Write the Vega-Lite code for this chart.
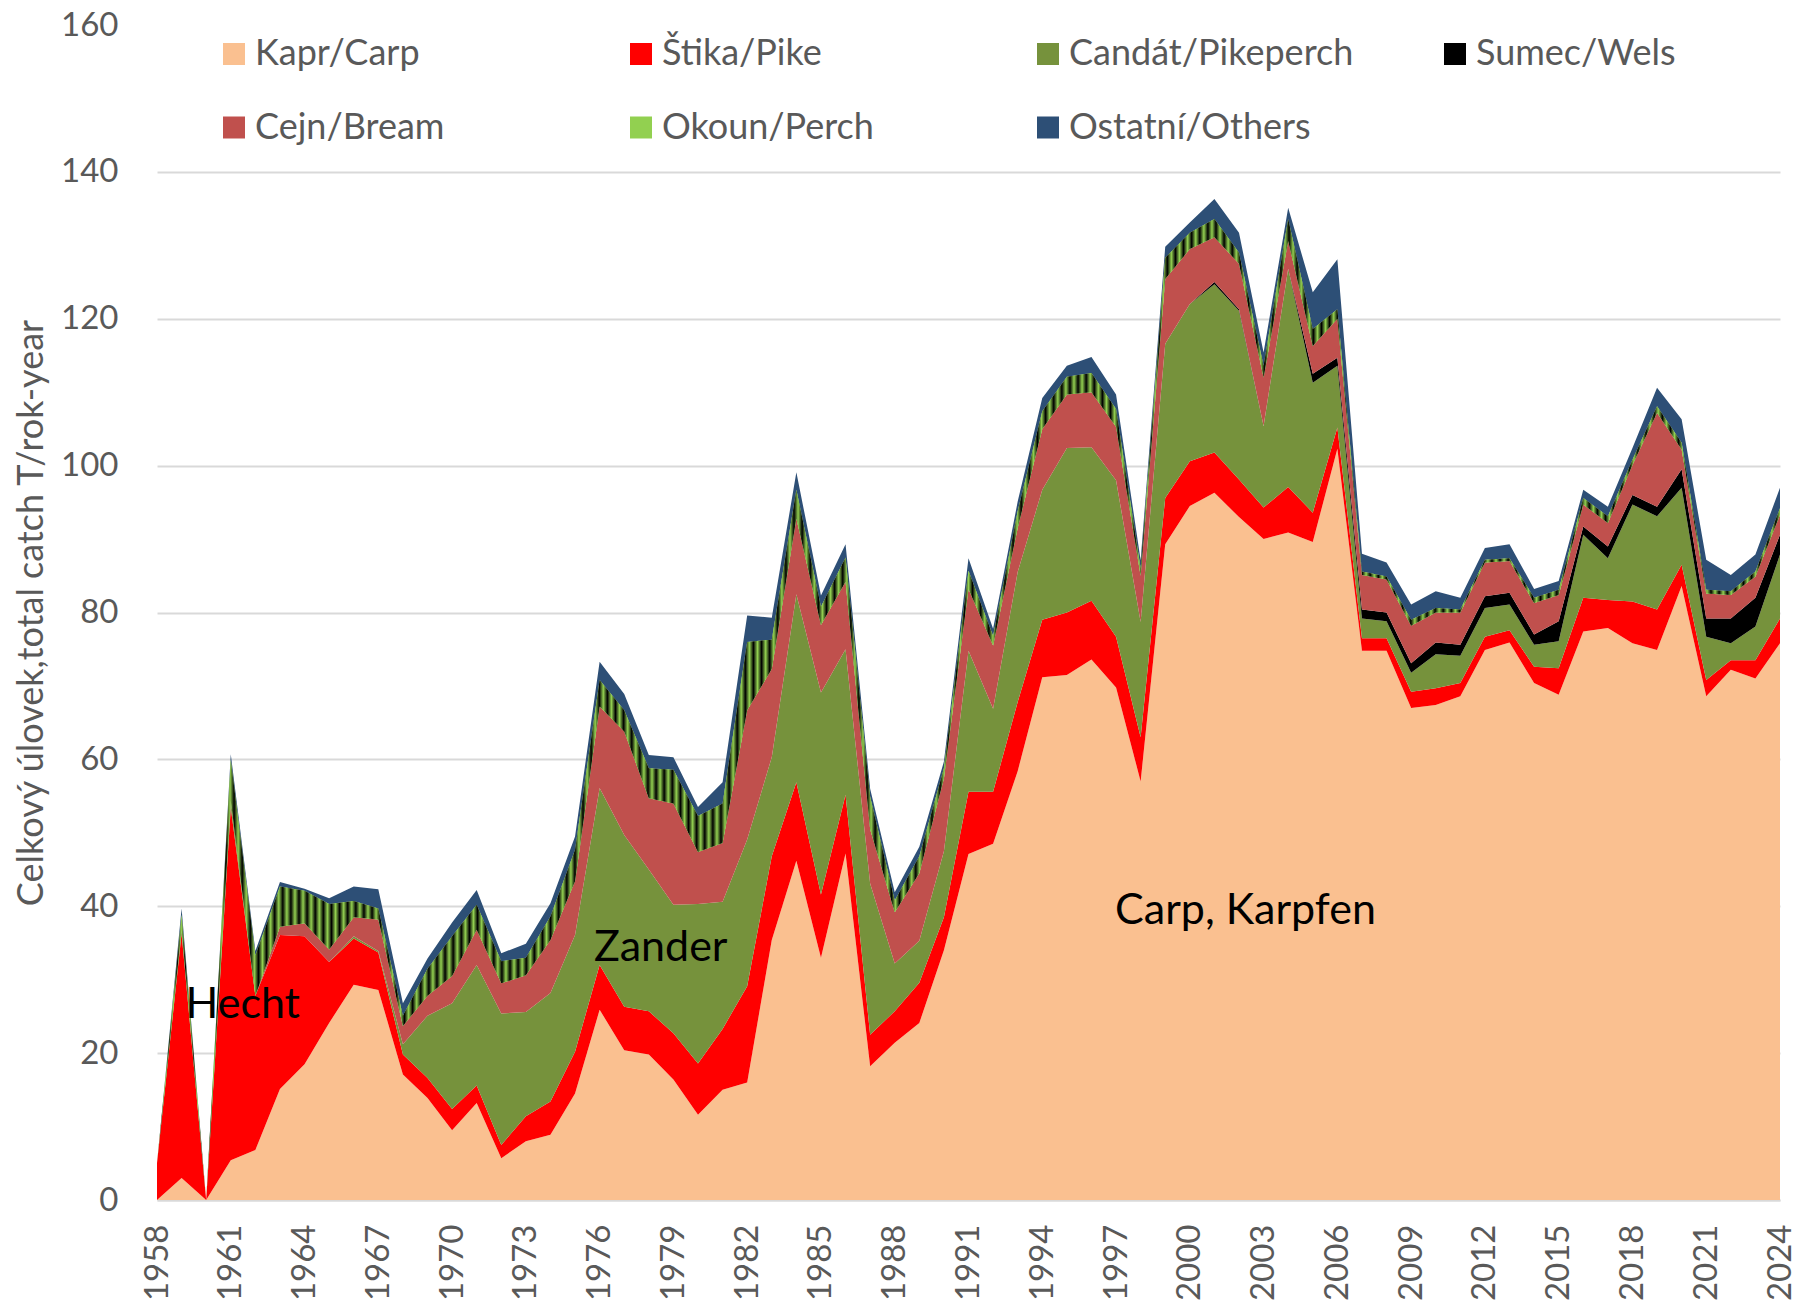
{
"$schema":"https://vega.github.io/schema/vega-lite/v6.json",
"autosize":"none",
"width":1623,"height":1175,
"padding":{"left":157,"top":25,"right":22,"bottom":108},
"background":"white",
"config":{"view":{"stroke":null},"font":"Lato"},
"layer":[
{
"data":{"values":[
{"year":1958,"carp":0,"pike":5,"zander":0,"wels":0,"bream":0,"perch":0,"others":0},
{"year":1959,"carp":3,"pike":33.3,"zander":0.5,"wels":0,"bream":0,"perch":2,"others":0.9},
{"year":1960,"carp":0,"pike":0,"zander":0,"wels":0,"bream":0,"perch":0,"others":0},
{"year":1961,"carp":5.4,"pike":48,"zander":1,"wels":0,"bream":0,"perch":5.5,"others":0.8},
{"year":1962,"carp":6.8,"pike":21,"zander":0,"wels":0,"bream":0,"perch":5.5,"others":0.6},
{"year":1963,"carp":15.1,"pike":21,"zander":0,"wels":0,"bream":1.1,"perch":5.5,"others":0.6},
{"year":1964,"carp":18.5,"pike":17.4,"zander":0,"wels":0,"bream":1.8,"perch":4.4,"others":0.3},
{"year":1965,"carp":24.1,"pike":8.3,"zander":0,"wels":0,"bream":1.7,"perch":6.2,"others":0.8},
{"year":1966,"carp":29.3,"pike":6.3,"zander":0.3,"wels":0,"bream":2.6,"perch":2.2,"others":2.0},
{"year":1967,"carp":28.6,"pike":5.1,"zander":0.2,"wels":0,"bream":4.3,"perch":1.5,"others":2.6},
{"year":1968,"carp":17.1,"pike":2.7,"zander":1.4,"wels":0,"bream":2.5,"perch":1.4,"others":1.7},
{"year":1969,"carp":13.9,"pike":2.7,"zander":8.5,"wels":0,"bream":2.7,"perch":3.7,"others":1.4},
{"year":1970,"carp":9.5,"pike":2.9,"zander":14.4,"wels":0,"bream":3.7,"perch":5.4,"others":1.9},
{"year":1971,"carp":13.2,"pike":2.4,"zander":16.4,"wels":0,"bream":4.8,"perch":3.4,"others":2.0},
{"year":1972,"carp":5.7,"pike":1.8,"zander":17.9,"wels":0,"bream":4.1,"perch":3.0,"others":1.1},
{"year":1973,"carp":8.0,"pike":3.4,"zander":14.2,"wels":0,"bream":5.0,"perch":2.4,"others":1.9},
{"year":1974,"carp":8.9,"pike":4.5,"zander":14.8,"wels":0,"bream":7.2,"perch":3.2,"others":1.8},
{"year":1975,"carp":14.5,"pike":5.7,"zander":15.9,"wels":0,"bream":7.3,"perch":4.3,"others":1.8},
{"year":1976,"carp":25.9,"pike":6.1,"zander":24.1,"wels":0,"bream":11.1,"perch":3.6,"others":2.5},
{"year":1977,"carp":20.4,"pike":5.9,"zander":23.4,"wels":0,"bream":14.1,"perch":2.9,"others":2.2},
{"year":1978,"carp":19.8,"pike":5.9,"zander":19.3,"wels":0,"bream":9.7,"perch":4.1,"others":1.8},
{"year":1979,"carp":16.4,"pike":6.3,"zander":17.5,"wels":0,"bream":13.8,"perch":4.6,"others":1.7},
{"year":1980,"carp":11.6,"pike":7.0,"zander":21.7,"wels":0,"bream":7.1,"perch":4.9,"others":1.2},
{"year":1981,"carp":15.0,"pike":8.3,"zander":17.3,"wels":0,"bream":8.0,"perch":5.4,"others":2.9},
{"year":1982,"carp":16.0,"pike":13.1,"zander":20.0,"wels":0,"bream":17.6,"perch":9.3,"others":3.6},
{"year":1983,"carp":35.4,"pike":11.4,"zander":13.5,"wels":0,"bream":12.0,"perch":4.0,"others":3.0},
{"year":1984,"carp":46.2,"pike":10.7,"zander":25.6,"wels":0,"bream":10.3,"perch":3.9,"others":2.4},
{"year":1985,"carp":33.0,"pike":8.6,"zander":27.5,"wels":0,"bream":9.2,"perch":2.5,"others":1.5},
{"year":1986,"carp":47.2,"pike":8.0,"zander":19.8,"wels":0,"bream":9.2,"perch":3.3,"others":1.8},
{"year":1987,"carp":18.2,"pike":4.3,"zander":20.6,"wels":0,"bream":7.4,"perch":4.4,"others":1.1},
{"year":1988,"carp":21.4,"pike":4.3,"zander":6.5,"wels":0,"bream":7.0,"perch":1.6,"others":1.1},
{"year":1989,"carp":24.1,"pike":5.5,"zander":5.7,"wels":0,"bream":9.2,"perch":2.3,"others":1.3},
{"year":1990,"carp":34.0,"pike":4.5,"zander":9.0,"wels":0,"bream":9.9,"perch":1.4,"others":0.9},
{"year":1991,"carp":47.1,"pike":8.5,"zander":19.2,"wels":0,"bream":8.4,"perch":2.5,"others":1.7},
{"year":1992,"carp":48.5,"pike":7.1,"zander":11.3,"wels":0,"bream":8.6,"perch":1.3,"others":1.0},
{"year":1993,"carp":58.4,"pike":9.4,"zander":17.7,"wels":0,"bream":6.0,"perch":2.3,"others":1.3},
{"year":1994,"carp":71.2,"pike":7.8,"zander":17.7,"wels":0,"bream":8.3,"perch":2.4,"others":1.8},
{"year":1995,"carp":71.5,"pike":8.5,"zander":22.4,"wels":0,"bream":7.3,"perch":2.4,"others":1.5},
{"year":1996,"carp":73.6,"pike":8.0,"zander":20.9,"wels":0,"bream":7.5,"perch":2.6,"others":2.2},
{"year":1997,"carp":69.8,"pike":6.9,"zander":21.3,"wels":0,"bream":7.3,"perch":2.4,"others":2.0},
{"year":1998,"carp":57.0,"pike":6.0,"zander":15.7,"wels":0,"bream":6.3,"perch":1.0,"others":1.1},
{"year":1999,"carp":89.3,"pike":6.3,"zander":21.0,"wels":0,"bream":8.8,"perch":2.9,"others":1.5},
{"year":2000,"carp":94.5,"pike":6.1,"zander":21.4,"wels":0,"bream":7.5,"perch":2.2,"others":1.4},
{"year":2001,"carp":96.3,"pike":5.5,"zander":22.9,"wels":0.3,"bream":6.1,"perch":2.5,"others":2.7},
{"year":2002,"carp":93.0,"pike":5.1,"zander":23.0,"wels":0.2,"bream":6.2,"perch":1.5,"others":2.7},
{"year":2003,"carp":90.0,"pike":4.3,"zander":11.1,"wels":0,"bream":6.6,"perch":1.6,"others":1.8},
{"year":2004,"carp":90.9,"pike":6.2,"zander":29.7,"wels":0,"bream":3.8,"perch":3.0,"others":1.5},
{"year":2005,"carp":89.6,"pike":4.0,"zander":17.7,"wels":1.2,"bream":3.8,"perch":2.3,"others":5.0},
{"year":2006,"carp":102.3,"pike":2.9,"zander":8.4,"wels":1.1,"bream":5.3,"perch":1.3,"others":6.8},
{"year":2007,"carp":74.8,"pike":1.7,"zander":2.7,"wels":1.2,"bream":4.7,"perch":0.5,"others":2.4},
{"year":2008,"carp":74.8,"pike":1.7,"zander":2.3,"wels":1.2,"bream":4.5,"perch":0.4,"others":1.9},
{"year":2009,"carp":67.0,"pike":2.2,"zander":2.6,"wels":1.3,"bream":5.1,"perch":0.8,"others":2.1},
{"year":2010,"carp":67.4,"pike":2.3,"zander":4.6,"wels":1.6,"bream":4.1,"perch":0.6,"others":2.3},
{"year":2011,"carp":68.6,"pike":1.8,"zander":3.7,"wels":1.5,"bream":4.4,"perch":0.4,"others":1.6},
{"year":2012,"carp":74.9,"pike":1.8,"zander":3.9,"wels":1.6,"bream":4.6,"perch":0.4,"others":1.6},
{"year":2013,"carp":75.9,"pike":1.7,"zander":3.5,"wels":1.6,"bream":4.3,"perch":0.4,"others":1.9},
{"year":2014,"carp":70.4,"pike":2.2,"zander":3.0,"wels":1.4,"bream":4.3,"perch":0.7,"others":1.2},
{"year":2015,"carp":68.8,"pike":3.6,"zander":3.7,"wels":2.7,"bream":3.6,"perch":0.7,"others":1.2},
{"year":2016,"carp":77.4,"pike":4.6,"zander":8.6,"wels":1.1,"bream":3.0,"perch":0.9,"others":1.1},
{"year":2017,"carp":77.9,"pike":3.8,"zander":5.7,"wels":1.6,"bream":3.2,"perch":0.9,"others":1.3},
{"year":2018,"carp":75.8,"pike":5.7,"zander":13.2,"wels":1.3,"bream":4.1,"perch":0.7,"others":1.6},
{"year":2019,"carp":74.9,"pike":5.5,"zander":12.7,"wels":1.3,"bream":12.8,"perch":0.9,"others":2.5},
{"year":2020,"carp":83.6,"pike":2.9,"zander":10.5,"wels":2.5,"bream":2.7,"perch":0.9,"others":3.2},
{"year":2021,"carp":68.6,"pike":2.2,"zander":5.9,"wels":2.5,"bream":3.4,"perch":0.5,"others":4.1},
{"year":2022,"carp":72.2,"pike":1.3,"zander":2.3,"wels":3.4,"bream":3.2,"perch":0.5,"others":2.2},
{"year":2023,"carp":71.0,"pike":2.5,"zander":4.6,"wels":3.9,"bream":2.9,"perch":0.7,"others":2.3},
{"year":2024,"carp":75.8,"pike":3.4,"zander":8.7,"wels":2.7,"bream":2.7,"perch":0.9,"others":2.8}
]},
"transform":[
{"fold":["carp","pike","zander","wels","bream","perch","others"],"as":["species","catch"]},
{"calculate":"indexof(['carp','pike','zander','wels','bream','perch','others'], datum.species)","as":"ord"},
{"stack":"catch","groupby":["year"],"sort":[{"field":"ord","order":"ascending"}],"as":["c0","c1"]}
],
"encoding":{
"x":{"field":"year","type":"quantitative","scale":{"domain":[1958,2024],"nice":false,"zero":false},
"axis":{"title":null,"values":[1958,1961,1964,1967,1970,1973,1976,1979,1982,1985,1988,1991,1994,1997,2000,2003,2006,2009,2012,2015,2018,2021,2024],"format":"d","labelAngle":-90,"labelFont":"Lato","labelFontSize":33,"labelColor":"#595959","labelPadding":24,"ticks":false,"grid":false,"domain":true,"domainColor":"#D9D9D9","domainWidth":2,"labelOverlap":false}},
"y":{"field":"c1","type":"quantitative","scale":{"domain":[0,160],"nice":false},
"axis":{"title":"Celkový úlovek,total catch T/rok-year","values":[0,20,40,60,80,100,120,140,160],"labelFont":"Lato","labelFontSize":33,"labelColor":"#595959","labelPadding":39,"ticks":false,"domain":false,"grid":true,"gridColor":{"condition":{"test":"datum.value === 160","value":"transparent"},"value":"#D9D9D9"},"gridWidth":2,"titleFont":"Lato","titleFontSize":36,"titleFontWeight":"normal","titleColor":"#595959","titleX":-126,"titleY":587.5,"titleAngle":-90,"titleAlign":"center","titleBaseline":"middle"}},
"y2":{"field":"c0"}
},
"layer":[
{"mark":{"type":"area","opacity":1,"interpolate":"linear"},
"encoding":{"color":{"field":"species","type":"nominal",
"scale":{"domain":["carp","pike","zander","wels","bream","perch","others"],"range":["#FAC090","#FF0000","#76923C","#000000","#C0504D","#92D050","#2D4F76"]},
"legend":{"title":null,"orient":"none","legendX":59,"legendY":11,"direction":"horizontal","columns":4,"symbolType":"square","symbolSize":484,"symbolStrokeWidth":0,"symbolOpacity":1,"labelFont":"Lato","labelFontSize":36,"labelColor":"#595959","labelOffset":3,"labelLimit":600,"rowPadding":37.5,"columnPadding":83,"gridAlign":"all","padding":0,
"labelExpr":"datum.value=='carp'?'Kapr/Carp':datum.value=='pike'?'Štika/Pike':datum.value=='zander'?'Candát/Pikeperch':datum.value=='wels'?'Sumec/Wels':datum.value=='bream'?'Cejn/Bream':datum.value=='perch'?'Okoun/Perch':'Ostatní/Others'"}
}}},
{"transform":[{"filter":"datum.species === 'perch'"}],
"mark":{"type":"area","opacity":1,"interpolate":"linear","fill":{"gradient":"linear","x1":0,"y1":0,"x2":1,"y2":0,"stops":[
{"offset":0,"color":"#92d050"},{"offset":0.0025,"color":"#000"},{"offset":0.005,"color":"#92d050"},{"offset":0.0075,"color":"#000"},
{"offset":0.01,"color":"#92d050"},{"offset":0.0125,"color":"#000"},{"offset":0.015,"color":"#92d050"},{"offset":0.0175,"color":"#000"},
{"offset":0.02,"color":"#92d050"},{"offset":0.0225,"color":"#000"},{"offset":0.025,"color":"#92d050"},{"offset":0.0275,"color":"#000"},
{"offset":0.03,"color":"#92d050"},{"offset":0.0325,"color":"#000"},{"offset":0.035,"color":"#92d050"},{"offset":0.0375,"color":"#000"},
{"offset":0.04,"color":"#92d050"},{"offset":0.0425,"color":"#000"},{"offset":0.045,"color":"#92d050"},{"offset":0.0475,"color":"#000"},
{"offset":0.05,"color":"#92d050"},{"offset":0.0525,"color":"#000"},{"offset":0.055,"color":"#92d050"},{"offset":0.0575,"color":"#000"},
{"offset":0.06,"color":"#92d050"},{"offset":0.0625,"color":"#000"},{"offset":0.065,"color":"#92d050"},{"offset":0.0675,"color":"#000"},
{"offset":0.07,"color":"#92d050"},{"offset":0.0725,"color":"#000"},{"offset":0.075,"color":"#92d050"},{"offset":0.0775,"color":"#000"},
{"offset":0.08,"color":"#92d050"},{"offset":0.0825,"color":"#000"},{"offset":0.085,"color":"#92d050"},{"offset":0.0875,"color":"#000"},
{"offset":0.09,"color":"#92d050"},{"offset":0.0925,"color":"#000"},{"offset":0.095,"color":"#92d050"},{"offset":0.0975,"color":"#000"},
{"offset":0.1,"color":"#92d050"},{"offset":0.1025,"color":"#000"},{"offset":0.105,"color":"#92d050"},{"offset":0.1075,"color":"#000"},
{"offset":0.11,"color":"#92d050"},{"offset":0.1125,"color":"#000"},{"offset":0.115,"color":"#92d050"},{"offset":0.1175,"color":"#000"},
{"offset":0.12,"color":"#92d050"},{"offset":0.1225,"color":"#000"},{"offset":0.125,"color":"#92d050"},{"offset":0.1275,"color":"#000"},
{"offset":0.13,"color":"#92d050"},{"offset":0.1325,"color":"#000"},{"offset":0.135,"color":"#92d050"},{"offset":0.1375,"color":"#000"},
{"offset":0.14,"color":"#92d050"},{"offset":0.1425,"color":"#000"},{"offset":0.145,"color":"#92d050"},{"offset":0.1475,"color":"#000"},
{"offset":0.15,"color":"#92d050"},{"offset":0.1525,"color":"#000"},{"offset":0.155,"color":"#92d050"},{"offset":0.1575,"color":"#000"},
{"offset":0.16,"color":"#92d050"},{"offset":0.1625,"color":"#000"},{"offset":0.165,"color":"#92d050"},{"offset":0.1675,"color":"#000"},
{"offset":0.17,"color":"#92d050"},{"offset":0.1725,"color":"#000"},{"offset":0.175,"color":"#92d050"},{"offset":0.1775,"color":"#000"},
{"offset":0.18,"color":"#92d050"},{"offset":0.1825,"color":"#000"},{"offset":0.185,"color":"#92d050"},{"offset":0.1875,"color":"#000"},
{"offset":0.19,"color":"#92d050"},{"offset":0.1925,"color":"#000"},{"offset":0.195,"color":"#92d050"},{"offset":0.1975,"color":"#000"},
{"offset":0.2,"color":"#92d050"},{"offset":0.2025,"color":"#000"},{"offset":0.205,"color":"#92d050"},{"offset":0.2075,"color":"#000"},
{"offset":0.21,"color":"#92d050"},{"offset":0.2125,"color":"#000"},{"offset":0.215,"color":"#92d050"},{"offset":0.2175,"color":"#000"},
{"offset":0.22,"color":"#92d050"},{"offset":0.2225,"color":"#000"},{"offset":0.225,"color":"#92d050"},{"offset":0.2275,"color":"#000"},
{"offset":0.23,"color":"#92d050"},{"offset":0.2325,"color":"#000"},{"offset":0.235,"color":"#92d050"},{"offset":0.2375,"color":"#000"},
{"offset":0.24,"color":"#92d050"},{"offset":0.2425,"color":"#000"},{"offset":0.245,"color":"#92d050"},{"offset":0.2475,"color":"#000"},
{"offset":0.25,"color":"#92d050"},{"offset":0.2525,"color":"#000"},{"offset":0.255,"color":"#92d050"},{"offset":0.2575,"color":"#000"},
{"offset":0.26,"color":"#92d050"},{"offset":0.2625,"color":"#000"},{"offset":0.265,"color":"#92d050"},{"offset":0.2675,"color":"#000"},
{"offset":0.27,"color":"#92d050"},{"offset":0.2725,"color":"#000"},{"offset":0.275,"color":"#92d050"},{"offset":0.2775,"color":"#000"},
{"offset":0.28,"color":"#92d050"},{"offset":0.2825,"color":"#000"},{"offset":0.285,"color":"#92d050"},{"offset":0.2875,"color":"#000"},
{"offset":0.29,"color":"#92d050"},{"offset":0.2925,"color":"#000"},{"offset":0.295,"color":"#92d050"},{"offset":0.2975,"color":"#000"},
{"offset":0.3,"color":"#92d050"},{"offset":0.3025,"color":"#000"},{"offset":0.305,"color":"#92d050"},{"offset":0.3075,"color":"#000"},
{"offset":0.31,"color":"#92d050"},{"offset":0.3125,"color":"#000"},{"offset":0.315,"color":"#92d050"},{"offset":0.3175,"color":"#000"},
{"offset":0.32,"color":"#92d050"},{"offset":0.3225,"color":"#000"},{"offset":0.325,"color":"#92d050"},{"offset":0.3275,"color":"#000"},
{"offset":0.33,"color":"#92d050"},{"offset":0.3325,"color":"#000"},{"offset":0.335,"color":"#92d050"},{"offset":0.3375,"color":"#000"},
{"offset":0.34,"color":"#92d050"},{"offset":0.3425,"color":"#000"},{"offset":0.345,"color":"#92d050"},{"offset":0.3475,"color":"#000"},
{"offset":0.35,"color":"#92d050"},{"offset":0.3525,"color":"#000"},{"offset":0.355,"color":"#92d050"},{"offset":0.3575,"color":"#000"},
{"offset":0.36,"color":"#92d050"},{"offset":0.3625,"color":"#000"},{"offset":0.365,"color":"#92d050"},{"offset":0.3675,"color":"#000"},
{"offset":0.37,"color":"#92d050"},{"offset":0.3725,"color":"#000"},{"offset":0.375,"color":"#92d050"},{"offset":0.3775,"color":"#000"},
{"offset":0.38,"color":"#92d050"},{"offset":0.3825,"color":"#000"},{"offset":0.385,"color":"#92d050"},{"offset":0.3875,"color":"#000"},
{"offset":0.39,"color":"#92d050"},{"offset":0.3925,"color":"#000"},{"offset":0.395,"color":"#92d050"},{"offset":0.3975,"color":"#000"},
{"offset":0.4,"color":"#92d050"},{"offset":0.4025,"color":"#000"},{"offset":0.405,"color":"#92d050"},{"offset":0.4075,"color":"#000"},
{"offset":0.41,"color":"#92d050"},{"offset":0.4125,"color":"#000"},{"offset":0.415,"color":"#92d050"},{"offset":0.4175,"color":"#000"},
{"offset":0.42,"color":"#92d050"},{"offset":0.4225,"color":"#000"},{"offset":0.425,"color":"#92d050"},{"offset":0.4275,"color":"#000"},
{"offset":0.43,"color":"#92d050"},{"offset":0.4325,"color":"#000"},{"offset":0.435,"color":"#92d050"},{"offset":0.4375,"color":"#000"},
{"offset":0.44,"color":"#92d050"},{"offset":0.4425,"color":"#000"},{"offset":0.445,"color":"#92d050"},{"offset":0.4475,"color":"#000"},
{"offset":0.45,"color":"#92d050"},{"offset":0.4525,"color":"#000"},{"offset":0.455,"color":"#92d050"},{"offset":0.4575,"color":"#000"},
{"offset":0.46,"color":"#92d050"},{"offset":0.4625,"color":"#000"},{"offset":0.465,"color":"#92d050"},{"offset":0.4675,"color":"#000"},
{"offset":0.47,"color":"#92d050"},{"offset":0.4725,"color":"#000"},{"offset":0.475,"color":"#92d050"},{"offset":0.4775,"color":"#000"},
{"offset":0.48,"color":"#92d050"},{"offset":0.4825,"color":"#000"},{"offset":0.485,"color":"#92d050"},{"offset":0.4875,"color":"#000"},
{"offset":0.49,"color":"#92d050"},{"offset":0.4925,"color":"#000"},{"offset":0.495,"color":"#92d050"},{"offset":0.4975,"color":"#000"},
{"offset":0.5,"color":"#92d050"},{"offset":0.5025,"color":"#000"},{"offset":0.505,"color":"#92d050"},{"offset":0.5075,"color":"#000"},
{"offset":0.51,"color":"#92d050"},{"offset":0.5125,"color":"#000"},{"offset":0.515,"color":"#92d050"},{"offset":0.5175,"color":"#000"},
{"offset":0.52,"color":"#92d050"},{"offset":0.5225,"color":"#000"},{"offset":0.525,"color":"#92d050"},{"offset":0.5275,"color":"#000"},
{"offset":0.53,"color":"#92d050"},{"offset":0.5325,"color":"#000"},{"offset":0.535,"color":"#92d050"},{"offset":0.5375,"color":"#000"},
{"offset":0.54,"color":"#92d050"},{"offset":0.5425,"color":"#000"},{"offset":0.545,"color":"#92d050"},{"offset":0.5475,"color":"#000"},
{"offset":0.55,"color":"#92d050"},{"offset":0.5525,"color":"#000"},{"offset":0.555,"color":"#92d050"},{"offset":0.5575,"color":"#000"},
{"offset":0.56,"color":"#92d050"},{"offset":0.5625,"color":"#000"},{"offset":0.565,"color":"#92d050"},{"offset":0.5675,"color":"#000"},
{"offset":0.57,"color":"#92d050"},{"offset":0.5725,"color":"#000"},{"offset":0.575,"color":"#92d050"},{"offset":0.5775,"color":"#000"},
{"offset":0.58,"color":"#92d050"},{"offset":0.5825,"color":"#000"},{"offset":0.585,"color":"#92d050"},{"offset":0.5875,"color":"#000"},
{"offset":0.59,"color":"#92d050"},{"offset":0.5925,"color":"#000"},{"offset":0.595,"color":"#92d050"},{"offset":0.5975,"color":"#000"},
{"offset":0.6,"color":"#92d050"},{"offset":0.6025,"color":"#000"},{"offset":0.605,"color":"#92d050"},{"offset":0.6075,"color":"#000"},
{"offset":0.61,"color":"#92d050"},{"offset":0.6125,"color":"#000"},{"offset":0.615,"color":"#92d050"},{"offset":0.6175,"color":"#000"},
{"offset":0.62,"color":"#92d050"},{"offset":0.6225,"color":"#000"},{"offset":0.625,"color":"#92d050"},{"offset":0.6275,"color":"#000"},
{"offset":0.63,"color":"#92d050"},{"offset":0.6325,"color":"#000"},{"offset":0.635,"color":"#92d050"},{"offset":0.6375,"color":"#000"},
{"offset":0.64,"color":"#92d050"},{"offset":0.6425,"color":"#000"},{"offset":0.645,"color":"#92d050"},{"offset":0.6475,"color":"#000"},
{"offset":0.65,"color":"#92d050"},{"offset":0.6525,"color":"#000"},{"offset":0.655,"color":"#92d050"},{"offset":0.6575,"color":"#000"},
{"offset":0.66,"color":"#92d050"},{"offset":0.6625,"color":"#000"},{"offset":0.665,"color":"#92d050"},{"offset":0.6675,"color":"#000"},
{"offset":0.67,"color":"#92d050"},{"offset":0.6725,"color":"#000"},{"offset":0.675,"color":"#92d050"},{"offset":0.6775,"color":"#000"},
{"offset":0.68,"color":"#92d050"},{"offset":0.6825,"color":"#000"},{"offset":0.685,"color":"#92d050"},{"offset":0.6875,"color":"#000"},
{"offset":0.69,"color":"#92d050"},{"offset":0.6925,"color":"#000"},{"offset":0.695,"color":"#92d050"},{"offset":0.6975,"color":"#000"},
{"offset":0.7,"color":"#92d050"},{"offset":0.7025,"color":"#000"},{"offset":0.705,"color":"#92d050"},{"offset":0.7075,"color":"#000"},
{"offset":0.71,"color":"#92d050"},{"offset":0.7125,"color":"#000"},{"offset":0.715,"color":"#92d050"},{"offset":0.7175,"color":"#000"},
{"offset":0.72,"color":"#92d050"},{"offset":0.7225,"color":"#000"},{"offset":0.725,"color":"#92d050"},{"offset":0.7275,"color":"#000"},
{"offset":0.73,"color":"#92d050"},{"offset":0.7325,"color":"#000"},{"offset":0.735,"color":"#92d050"},{"offset":0.7375,"color":"#000"},
{"offset":0.74,"color":"#92d050"},{"offset":0.7425,"color":"#000"},{"offset":0.745,"color":"#92d050"},{"offset":0.7475,"color":"#000"},
{"offset":0.75,"color":"#92d050"},{"offset":0.7525,"color":"#000"},{"offset":0.755,"color":"#92d050"},{"offset":0.7575,"color":"#000"},
{"offset":0.76,"color":"#92d050"},{"offset":0.7625,"color":"#000"},{"offset":0.765,"color":"#92d050"},{"offset":0.7675,"color":"#000"},
{"offset":0.77,"color":"#92d050"},{"offset":0.7725,"color":"#000"},{"offset":0.775,"color":"#92d050"},{"offset":0.7775,"color":"#000"},
{"offset":0.78,"color":"#92d050"},{"offset":0.7825,"color":"#000"},{"offset":0.785,"color":"#92d050"},{"offset":0.7875,"color":"#000"},
{"offset":0.79,"color":"#92d050"},{"offset":0.7925,"color":"#000"},{"offset":0.795,"color":"#92d050"},{"offset":0.7975,"color":"#000"},
{"offset":0.8,"color":"#92d050"},{"offset":0.8025,"color":"#000"},{"offset":0.805,"color":"#92d050"},{"offset":0.8075,"color":"#000"},
{"offset":0.81,"color":"#92d050"},{"offset":0.8125,"color":"#000"},{"offset":0.815,"color":"#92d050"},{"offset":0.8175,"color":"#000"},
{"offset":0.82,"color":"#92d050"},{"offset":0.8225,"color":"#000"},{"offset":0.825,"color":"#92d050"},{"offset":0.8275,"color":"#000"},
{"offset":0.83,"color":"#92d050"},{"offset":0.8325,"color":"#000"},{"offset":0.835,"color":"#92d050"},{"offset":0.8375,"color":"#000"},
{"offset":0.84,"color":"#92d050"},{"offset":0.8425,"color":"#000"},{"offset":0.845,"color":"#92d050"},{"offset":0.8475,"color":"#000"},
{"offset":0.85,"color":"#92d050"},{"offset":0.8525,"color":"#000"},{"offset":0.855,"color":"#92d050"},{"offset":0.8575,"color":"#000"},
{"offset":0.86,"color":"#92d050"},{"offset":0.8625,"color":"#000"},{"offset":0.865,"color":"#92d050"},{"offset":0.8675,"color":"#000"},
{"offset":0.87,"color":"#92d050"},{"offset":0.8725,"color":"#000"},{"offset":0.875,"color":"#92d050"},{"offset":0.8775,"color":"#000"},
{"offset":0.88,"color":"#92d050"},{"offset":0.8825,"color":"#000"},{"offset":0.885,"color":"#92d050"},{"offset":0.8875,"color":"#000"},
{"offset":0.89,"color":"#92d050"},{"offset":0.8925,"color":"#000"},{"offset":0.895,"color":"#92d050"},{"offset":0.8975,"color":"#000"},
{"offset":0.9,"color":"#92d050"},{"offset":0.9025,"color":"#000"},{"offset":0.905,"color":"#92d050"},{"offset":0.9075,"color":"#000"},
{"offset":0.91,"color":"#92d050"},{"offset":0.9125,"color":"#000"},{"offset":0.915,"color":"#92d050"},{"offset":0.9175,"color":"#000"},
{"offset":0.92,"color":"#92d050"},{"offset":0.9225,"color":"#000"},{"offset":0.925,"color":"#92d050"},{"offset":0.9275,"color":"#000"},
{"offset":0.93,"color":"#92d050"},{"offset":0.9325,"color":"#000"},{"offset":0.935,"color":"#92d050"},{"offset":0.9375,"color":"#000"},
{"offset":0.94,"color":"#92d050"},{"offset":0.9425,"color":"#000"},{"offset":0.945,"color":"#92d050"},{"offset":0.9475,"color":"#000"},
{"offset":0.95,"color":"#92d050"},{"offset":0.9525,"color":"#000"},{"offset":0.955,"color":"#92d050"},{"offset":0.9575,"color":"#000"},
{"offset":0.96,"color":"#92d050"},{"offset":0.9625,"color":"#000"},{"offset":0.965,"color":"#92d050"},{"offset":0.9675,"color":"#000"},
{"offset":0.97,"color":"#92d050"},{"offset":0.9725,"color":"#000"},{"offset":0.975,"color":"#92d050"},{"offset":0.9775,"color":"#000"},
{"offset":0.98,"color":"#92d050"},{"offset":0.9825,"color":"#000"},{"offset":0.985,"color":"#92d050"},{"offset":0.9875,"color":"#000"},
{"offset":0.99,"color":"#92d050"},{"offset":0.9925,"color":"#000"},{"offset":0.995,"color":"#92d050"},{"offset":0.9975,"color":"#000"},
{"offset":1,"color":"#92d050"}
]}}}
]
},
{
"data":{"values":[
{"year":1959.16,"value":26.5,"label":"Hecht"},
{"year":1975.77,"value":34.3,"label":"Zander"},
{"year":1996.96,"value":39.3,"label":"Carp, Karpfen"}
]},
"mark":{"type":"text","align":"left","baseline":"middle","font":"Lato","fontSize":43,"color":"#000000"},
"encoding":{
"x":{"field":"year","type":"quantitative","title":null},
"y":{"field":"value","type":"quantitative","title":"Celkový úlovek,total catch T/rok-year"},
"text":{"field":"label"}
}
}
]
}
